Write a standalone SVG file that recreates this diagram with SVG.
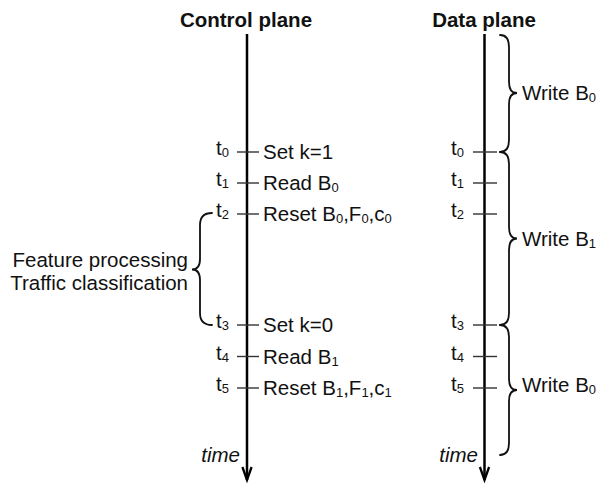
<svg xmlns="http://www.w3.org/2000/svg" width="597" height="483" viewBox="0 0 597 483">
<style>
text{font-family:"Liberation Sans",Arial,Helvetica,sans-serif;font-size:20.5px;fill:#111}
.title{font-weight:bold}
.it{font-style:italic}
.sub{font-size:13px}
.axis{stroke:#000;stroke-width:2.5;fill:none}
.tick{stroke:#333;stroke-width:1.4;fill:none}
.brace{stroke:#111;stroke-width:1.8;fill:none;stroke-linecap:round}
.end{text-anchor:end}
</style>
<defs>
<marker id="arr" markerUnits="userSpaceOnUse" markerWidth="20" markerHeight="20" viewBox="-16 -8 20 16" refX="0" refY="0" orient="auto">
<path d="M-13,-4.6 L0,0 L-13,4.6" fill="none" stroke="#000" stroke-width="2.3"/>
</marker>
</defs>

<g id="control-title"><text class="title" x="246" y="27" text-anchor="middle">Control plane</text></g>
<g id="data-title"><text class="title" x="484" y="27" text-anchor="middle">Data plane</text></g>

<g id="connectors">
<line class="axis" x1="247" y1="34" x2="247" y2="480" marker-end="url(#arr)"/>
<line class="axis" x1="484.5" y1="34" x2="484.5" y2="480" marker-end="url(#arr)"/>
<path class="brace" d="M212,213 Q200,213 200,225 L200,259 Q200,269.5 192,269.5 Q200,269.5 200,280 L200,313 Q200,325 212,325"/>
<path class="brace" d="M500,35 Q509,35 509,47 L509,82 Q509,93 517,93 Q509,93 509,104 L509,140 Q509,152 500,152"/>
<path class="brace" d="M500,152 Q509,152 509,164 L509,227 Q509,238.5 517,238.5 Q509,238.5 509,250 L509,313 Q509,325 500,325"/>
<path class="brace" d="M500,325 Q509,325 509,337 L509,379 Q509,390 517,390 Q509,390 509,401 L509,443 Q509,455 500,455"/>
</g>

<g id="c-t0"><line class="tick" x1="237" y1="152" x2="259" y2="152"/><text class="end" x="229" y="155">t<tspan class="sub" dy="2">0</tspan></text><text x="263" y="159">Set k=1</text></g>
<g id="c-t1"><line class="tick" x1="237" y1="183" x2="259" y2="183"/><text class="end" x="229" y="186">t<tspan class="sub" dy="2">1</tspan></text><text x="263" y="190">Read B<tspan class="sub" dy="2">0</tspan></text></g>
<g id="c-t2"><line class="tick" x1="237" y1="214" x2="259" y2="214"/><text class="end" x="229" y="217">t<tspan class="sub" dy="2">2</tspan></text><text x="263" y="221">Reset B<tspan class="sub" dy="2">0</tspan><tspan dy="-2">,F</tspan><tspan class="sub" dy="2">0</tspan><tspan dy="-2">,c</tspan><tspan class="sub" dy="2">0</tspan></text></g>
<g id="c-t3"><line class="tick" x1="237" y1="325" x2="259" y2="325"/><text class="end" x="229" y="328">t<tspan class="sub" dy="2">3</tspan></text><text x="263" y="332">Set k=0</text></g>
<g id="c-t4"><line class="tick" x1="237" y1="356.5" x2="259" y2="356.5"/><text class="end" x="229" y="359.5">t<tspan class="sub" dy="2">4</tspan></text><text x="263" y="363.5">Read B<tspan class="sub" dy="2">1</tspan></text></g>
<g id="c-t5"><line class="tick" x1="237" y1="388" x2="259" y2="388"/><text class="end" x="229" y="391">t<tspan class="sub" dy="2">5</tspan></text><text x="263" y="395">Reset B<tspan class="sub" dy="2">1</tspan><tspan dy="-2">,F</tspan><tspan class="sub" dy="2">1</tspan><tspan dy="-2">,c</tspan><tspan class="sub" dy="2">1</tspan></text></g>
<g id="c-time"><text class="it end" x="240" y="462">time</text></g>
<g id="c-process"><text class="end" x="188" y="267">Feature processing</text><text class="end" x="188" y="290">Traffic classification</text></g>

<g id="d-t0"><line class="tick" x1="473" y1="152" x2="497" y2="152"/><text class="end" x="464" y="155">t<tspan class="sub" dy="2">0</tspan></text></g>
<g id="d-t1"><line class="tick" x1="473" y1="183" x2="497" y2="183"/><text class="end" x="464" y="186">t<tspan class="sub" dy="2">1</tspan></text></g>
<g id="d-t2"><line class="tick" x1="473" y1="214" x2="497" y2="214"/><text class="end" x="464" y="217">t<tspan class="sub" dy="2">2</tspan></text></g>
<g id="d-t3"><line class="tick" x1="473" y1="325" x2="497" y2="325"/><text class="end" x="464" y="328">t<tspan class="sub" dy="2">3</tspan></text></g>
<g id="d-t4"><line class="tick" x1="473" y1="356.5" x2="497" y2="356.5"/><text class="end" x="464" y="359.5">t<tspan class="sub" dy="2">4</tspan></text></g>
<g id="d-t5"><line class="tick" x1="473" y1="388" x2="497" y2="388"/><text class="end" x="464" y="391">t<tspan class="sub" dy="2">5</tspan></text></g>
<g id="d-time"><text class="it end" x="478" y="462">time</text></g>
<g id="d-write0"><text x="522" y="100">Write B<tspan class="sub" dy="2">0</tspan></text></g>
<g id="d-write1"><text x="522" y="245.5">Write B<tspan class="sub" dy="2">1</tspan></text></g>
<g id="d-write2"><text x="522" y="392">Write B<tspan class="sub" dy="2">0</tspan></text></g>
</svg>
